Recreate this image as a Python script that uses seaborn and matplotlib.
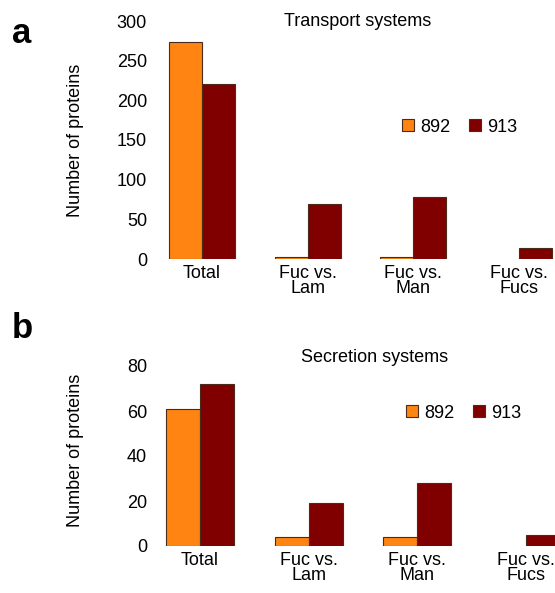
import matplotlib
matplotlib.use("Agg")
import matplotlib.pyplot as plt
from matplotlib.patches import Patch
import seaborn as sns
import pandas as pd

# Categories and protein counts per strain
categories = ["Total", "Fuc vs.\nLam", "Fuc vs.\nMan", "Fuc vs.\nFucs"]
strains = ["892", "913"]
transport_892 = [274, 3, 3, 0]
transport_913 = [220, 69, 78, 14]
secretion_892 = [61, 4, 4, 0]
secretion_913 = [72, 19, 28, 5]
transport_ticks = [0, 50, 100, 150, 200, 250, 300]
secretion_ticks = [0, 20, 40, 60, 80]

colors = {"892": "#FF8412", "913": "#800000"}
edge = "#4a2a1c"

sns.set_theme(style="white")
plt.rcParams["font.family"] = ["Liberation Sans", "DejaVu Sans"]
for key in ("text.color", "axes.labelcolor", "xtick.color", "ytick.color"):
    plt.rcParams[key] = "black"

W, H = 555, 593
fig = plt.figure(figsize=(W / 100, H / 100), dpi=100)


def frame(v892, v913):
    rows = []
    for c, a, b in zip(categories, v892, v913):
        rows.append({"category": c, "strain": "892", "count": a})
        rows.append({"category": c, "strain": "913", "count": b})
    return pd.DataFrame(rows)


def panel(rect, df, ticks, xlim, title, title_xy, letter_xy, letter, ylabel_y, legend_xy):
    ax = fig.add_axes(rect)
    sns.barplot(data=df, x="category", y="count", hue="strain", hue_order=strains,
                order=categories, palette=colors, saturation=1, width=0.625, gap=0,
                edgecolor=edge, linewidth=0.8, ax=ax, errorbar=None, legend=False)
    for p in ax.patches:
        if p.get_height() == 0:
            p.set_visible(False)
    ax.set_xlim(*xlim)
    ax.set_ylim(ticks[0], ticks[-1])
    ax.set_yticks(ticks)
    ax.set_yticklabels([str(t) for t in ticks])
    for s in ax.spines.values():
        s.set_visible(False)
    ax.tick_params(axis="y", length=0, pad=5.8, labelsize=13)
    ax.tick_params(axis="x", length=0, pad=4.5, labelsize=13)
    for lbl in ax.get_xticklabels():
        lbl.set_linespacing(0.85)
    ax.set_xlabel("")
    ax.set_ylabel("Number of proteins", fontsize=13)
    ax.yaxis.set_label_coords(84 / W, ylabel_y, transform=fig.transFigure)
    handles = [Patch(facecolor=colors[s], edgecolor=edge, linewidth=0.8, label=s)
               for s in strains]
    ax.legend(handles=handles, loc="center left", bbox_to_anchor=legend_xy,
              bbox_transform=fig.transFigure, ncol=2, frameon=False, fontsize=13,
              handlelength=0.67, handleheight=0.67, handletextpad=0.33,
              columnspacing=1.05, borderpad=0, borderaxespad=0)
    fig.text(title_xy[0], title_xy[1], title, fontsize=13, ha="center", va="baseline")
    fig.text(letter_xy[0], letter_xy[1], letter, fontsize=25, fontweight="bold",
             ha="left", va="baseline")
    ax.set_facecolor("none")
    return ax


panel([155 / W, 1 - 259 / H, 400 / W, (259 - 21) / H],
      frame(transport_892, transport_913), transport_ticks, (-0.445, 3.341),
      "Transport systems", (358 / W, 1 - 26.5 / H), (12 / W, 1 - 43 / H), "a",
      1 - 140 / H, (402 / W, 1 - 127 / H))

panel([155 / W, 1 - 546 / H, 400 / W, (546 - 366) / H],
      frame(secretion_892, secretion_913), secretion_ticks, (-0.414, 3.267),
      "Secretion systems", (375 / W, 1 - 362 / H), (12 / W, 1 - 338 / H), "b",
      1 - 450 / H, (406 / W, 1 - 413 / H))

fig.savefig("out.png", dpi=100)
